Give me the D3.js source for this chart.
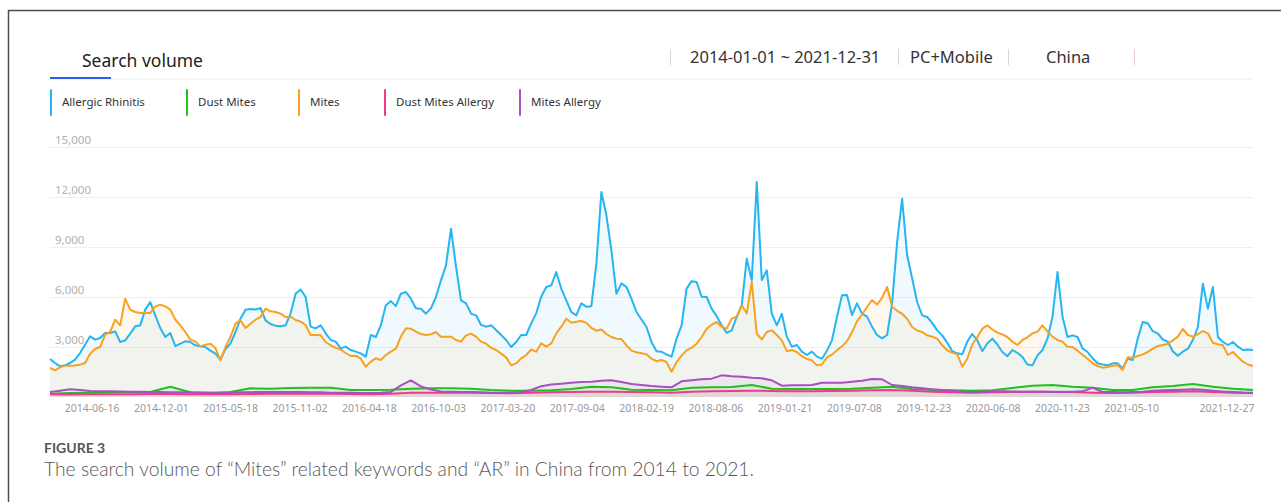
<!DOCTYPE html>
<html>
<head>
<meta charset="utf-8">
<script src="https://cdn.jsdelivr.net/npm/d3@7"></script>
<style>
  body { margin: 0; background: #fff; }
  svg { display: block; }
</style>
</head>
<body>
<svg></svg>
<script>
// weekly-ish search volume (one value every ~5px for the big series)
const allergicRhinitis = [
  2280,2040,1840,1900,2040,2240,2640,3140,3640,3440, 3540,3840,3840,3940,3300,3400,3800,4240,4300,5240,
  5700,4900,4140,3600,3840,3050,3200,3340,3300,3100, 3040,3000,2780,2600,2250,2880,3200,3900,4700,5240,
  5280,5250,5340,4600,4380,4280,4250,4300,5020,6200, 6450,6000,4220,4120,4300,3820,3420,3320,2920,3020,
  2820,2720,2620,2420,3720,3600,4300,5500,5750,5450, 6200,6300,5900,5320,5300,5000,5320,6000,7000,7900,
  10100,7820,5800,5620,5000,4900,4320,4220,4300,4020, 3720,3420,3000,3300,3720,3720,4420,5020,6020,6600,
  6700,7500,6500,5800,5100,4900,5620,5420,5450,8000, 12300,10900,8800,6200,6820,6600,5900,5100,4650,4200,
  3300,2750,2720,2550,2420,3500,4300,6500,6950,6900, 6020,6000,5300,4850,4300,3850,4000,4800,5500,8300,
  7000,12900,7020,7600,5000,4300,5000,3620,3020,3120, 2720,2520,2720,2420,2300,2780,3400,4800,6100,6120,
  4920,5620,5000,4820,4220,3720,3520,3720,5620,9300, 11900,8500,7120,5700,4900,4800,4450,4000,3700,3250,
  2750,2620,2560,3320,3780,3400,2750,3220,3500,3150, 2700,2450,2820,2650,2400,1950,1900,2500,2820,3500,
  4820,7500,4820,3600,3700,3600,2920,2700,2320,2020, 1950,1900,2020,2020,1720,2300,2220,3500,4500,4420,
  3950,3820,3450,3320,2750,2480,2720,2900,3420,4200, 6800,5300,6600,3600,3300,3120,3300,3020,2820,2850,
  2820
];

const mites = [
  1740,1600,1780,1880,1880,1890,1940,2040,2600,2880, 3000,3740,3900,4640,4300,5900,5240,5100,5040,5060,
  5040,5440,5540,5440,5240,4650,4300,3900,3440,3340, 3040,3140,3200,2940,2200,3000,3600,4400,4600,4140,
  4400,4640,4800,5300,5140,5100,5000,4800,4820,4620, 4520,4320,3720,3720,3700,3300,3100,2950,2840,2640,
  2460,2480,2300,1820,2120,2320,2220,2520,2720,2900, 3620,4120,4100,3920,3780,3720,3760,3900,3620,3620,
  3620,3420,3320,3700,3800,3620,3320,3200,2960,2820, 2600,2380,1900,2020,2320,2520,2850,2720,3220,3020,
  3220,3820,4220,4700,4450,4520,4560,4450,4150,3980, 4050,3780,3600,3500,3480,3100,2780,2680,2620,2560,
  2300,2150,2220,2100,1520,2100,2480,2800,2960,3200, 3600,4100,4340,4500,4220,4100,4700,4820,5500,5020,
  6900,3800,3450,3900,4000,3720,3400,2750,2820,2700, 2450,2280,2200,1900,1950,2380,2540,2800,3040,3350,
  3880,4550,4950,5400,5820,5550,5950,6600,5420,5170, 5000,4700,4200,4000,3900,3700,3620,3500,3100,2800,
  2660,2560,1820,2300,3150,3600,4100,4300,4050,3860, 3760,3600,3320,3120,3420,3580,3820,3920,4300,3920,
  3620,3420,3320,3020,3000,2780,2540,2300,2020,1860, 1760,1800,1880,1900,1620,2380,2360,2460,2560,2700,
  2900,3060,3120,3180,3400,3620,4080,3720,3620,3780, 3950,3820,3250,3160,3100,2520,2700,2400,2120,1950,
  1860
];

// the small series are coarser (every ~20px, mites allergy every ~10px)
const dustMites = [
  200,240,260,280,300,300,620,280,260,300, 520,500,540,560,560,420,420,440,500,520,
  520,500,420,380,380,400,480,620,580,440, 420,400,560,580,600,720,500,480,480,480,
  500,560,620,480,420,400,380,400,540,680, 720,620,560,420,420,580,660,780,620,500,
  420
];

const dustMitesAllergy = [
  160,150,160,160,170,180,180,170,160,170, 180,190,200,200,190,180,170,200,260,260,
  260,250,240,220,250,280,300,320,320,300, 280,260,320,340,360,380,360,340,340,360,
  380,400,420,380,320,280,260,280,300,320, 320,300,260,240,260,300,320,340,300,260,
  240
];

const mitesAllergy = [
  300,380,460,420,360,340,340,330,320,320, 300,300,280,280,270,260,250,230,250,280,
  290,300,300,300,300,300,290,280,260,260, 250,240,240,250,300,700,1000,640,450,330,
  320,300,300,280,260,250,250,300,420,650, 750,800,860,900,920,980,1000,900,780,720,
  660,620,580,940,1000,1060,1100,1300,1250,1220, 1150,1120,1000,680,700,700,720,860,860,860,
  920,980,1080,1060,720,660,580,520,470,420, 370,320,300,320,340,340,330,320,320,310,
  300,300,320,340,560,300,300,280,300,320, 380,400,420,440,460,440,380,330,300,270,
  260
];

const seriesNames = ["Allergic Rhinitis", "Dust Mites", "Mites", "Dust Mites Allergy", "Mites Allergy"];
const seriesColors = ["#25b5f0", "#1fc01f", "#f9a11e", "#ef3b8c", "#a74fc3"];
const seriesValues = [allergicRhinitis, dustMites, mites, dustMitesAllergy, mitesAllergy];

const yTicks = [3000, 6000, 9000, 12000, 15000];
const xTickLabels = ["2014-06-16","2014-12-01","2015-05-18","2015-11-02","2016-04-18","2016-10-03",
  "2017-03-20","2017-09-04","2018-02-19","2018-08-06","2019-01-21","2019-07-08","2019-12-23",
  "2020-06-08","2020-11-23","2021-05-10","2021-12-27"];

const width = 1281, height = 502;
const margin = {top: 147, right: 28, bottom: 105, left: 50};
const plotRight = width - margin.right;
const plotBottom = height - margin.bottom;

const svg = d3.select("svg").attr("width", width).attr("height", height);

// frame of the figure
svg.append("path")
  .attr("d", `M8.5,${height} L8.5,10.5 L${width},10.5`)
  .attr("fill", "none").attr("stroke", "#4d4d4d").attr("stroke-width", 1.5);

// header
svg.append("text").attr("x", 82).attr("y", 67)
  .attr("font-family", "Noto Sans").attr("font-size", 17.5).attr("fill", "#222")
  .text("Search volume");
svg.append("line").attr("x1", margin.left).attr("x2", plotRight).attr("y1", 79).attr("y2", 79)
  .attr("stroke", "#ececec");
svg.append("line").attr("x1", margin.left).attr("x2", 111).attr("y1", 78).attr("y2", 78)
  .attr("stroke", "#2d5bf5").attr("stroke-width", 2);

const headerBits = [
  {text: "2014-01-01 ~ 2021-12-31", x: 690},
  {text: "PC+Mobile", x: 910},
  {text: "China", x: 1046}
];
svg.selectAll(".hdr").data(headerBits).enter().append("text")
  .attr("class", "hdr")
  .attr("x", d => d.x).attr("y", 63)
  .attr("font-family", "Noto Sans").attr("font-size", 16.5).attr("fill", "#333")
  .text(d => d.text);
[670.5, 898.5, 1008.5, 1134.5].forEach(function(x, i) {
  svg.append("line").attr("x1", x).attr("x2", x).attr("y1", 49).attr("y2", 65)
    .attr("stroke", i === 3 ? "#e5cccc" : "#d6d6d6").attr("stroke-width", 1);
});

// legend
const legendX = [50, 186, 298, 384, 519];
const legend = svg.selectAll(".legend").data(seriesNames).enter().append("g")
  .attr("class", "legend")
  .attr("transform", (d, i) => "translate(" + legendX[i] + ",0)");
legend.append("line")
  .attr("x1", 1).attr("x2", 1).attr("y1", 90).attr("y2", 115)
  .attr("stroke", (d, i) => seriesColors[i]).attr("stroke-width", 2)
  .attr("stroke-linecap", "round");
legend.append("text")
  .attr("x", 12).attr("y", 106)
  .attr("font-family", "Noto Sans").attr("font-size", 11.5).attr("fill", "#333")
  .text(d => d);

// scales
const y = d3.scaleLinear().domain([0, 15000]).range([plotBottom, margin.top]);
// the axis labels do not sit on the true dates of the series, so the visible span is wider
const x = d3.scaleTime()
  .domain([new Date(2014, 2, 6), new Date(2022, 1, 28)])
  .range([margin.left, plotRight]);
const t0 = +x.domain()[0], t1 = +x.domain()[1];
const dateAt = t => new Date(t0 + (t1 - t0) * t);

// grid
svg.selectAll(".grid").data(yTicks).enter().append("line")
  .attr("class", "grid")
  .attr("x1", margin.left).attr("x2", plotRight)
  .attr("y1", d => y(d) + 0.5).attr("y2", d => y(d) + 0.5)
  .attr("stroke", "#efefef");
svg.selectAll(".ylab").data(yTicks).enter().append("text")
  .attr("class", "ylab")
  .attr("x", 55).attr("y", d => y(d) - 3)
  .attr("font-family", "Noto Sans").attr("font-size", 11.5).attr("fill", "#b0b0b0")
  .text(d => d3.format(",")(d));

// series
const series = seriesValues.map(function(vals, k) {
  return {
    name: seriesNames[k],
    color: seriesColors[k],
    points: vals.map((v, i) => ({date: dateAt(i / (vals.length - 1)), value: v}))
  };
});

const area = d3.area().x(d => x(d.date)).y0(y(0)).y1(d => y(d.value));
const line = d3.line().x(d => x(d.date)).y(d => y(d.value));

svg.selectAll(".area").data(series).enter().append("path")
  .attr("class", "area")
  .attr("d", d => area(d.points))
  .attr("fill", d => d.color).attr("fill-opacity", 0.07);

svg.selectAll(".line").data(series).enter().append("path")
  .attr("class", "line")
  .attr("d", d => line(d.points))
  .attr("fill", "none").attr("stroke", d => d.color)
  .attr("stroke-width", 2).attr("stroke-linejoin", "round");

// x labels
const parseDay = d3.timeParse("%Y-%m-%d");
svg.selectAll(".xlab").data(xTickLabels).enter().append("text")
  .attr("class", "xlab")
  .attr("x", d => x(parseDay(d))).attr("y", 411.5)
  .attr("text-anchor", "middle")
  .attr("font-family", "Noto Sans").attr("font-size", 10.5).attr("fill", "#999")
  .text(d => d);

// caption
svg.append("text").attr("x", 44).attr("y", 453)
  .attr("font-family", "Lato").attr("font-weight", 700).attr("font-size", 14).attr("fill", "#575757")
  .text("FIGURE 3");
svg.append("text").attr("x", 44).attr("y", 476)
  .attr("font-family", "Lato").attr("font-weight", 300).attr("font-size", 19.3).attr("fill", "#575757")
  .text("The search volume of \u201cMites\u201d related keywords and \u201cAR\u201d in China from 2014 to 2021.");
</script>
</body>
</html>
